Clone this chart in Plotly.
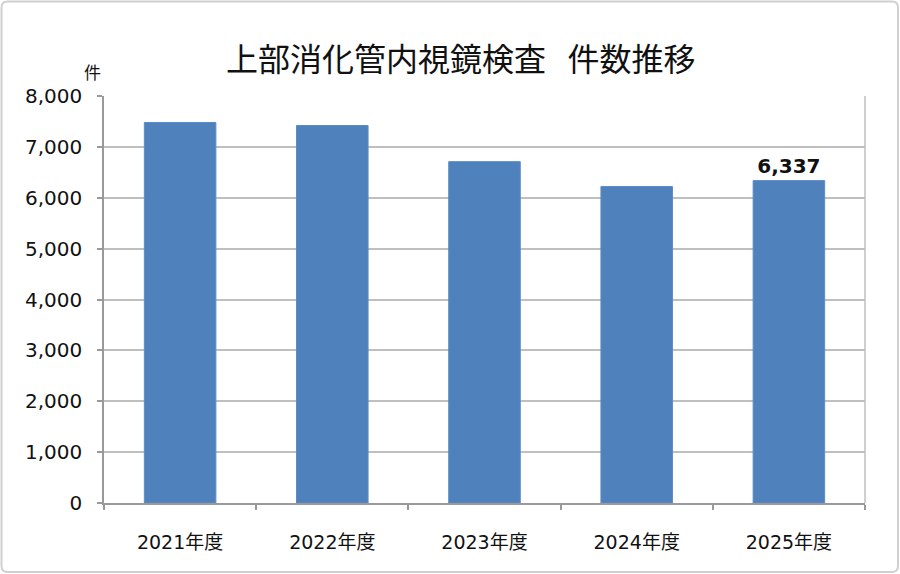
import plotly.graph_objects as go

categories = ["2021年度", "2022年度", "2023年度", "2024年度", "2025年度"]
values = [7480, 7420, 6710, 6220, 6337]
labels = ["", "", "", "", "6,337"]
y_ticks = [0, 1000, 2000, 3000, 4000, 5000, 6000, 7000, 8000]
y_tick_text = ["0", "1,000", "2,000", "3,000", "4,000", "5,000", "6,000", "7,000", "8,000"]

W, H = 900, 574
L, R, T, B = 104, 35, 96, 71
pw, ph = W - L - R, H - T - B

def px(x):
    return (x - L) / pw

def py(y):
    return (H - B - y) / ph

fig = go.Figure()
fig.add_trace(go.Bar(
    x=categories, y=values,
    marker=dict(color="#4F81BD", line=dict(color="#5b8cc8", width=1)),
    text=labels, textposition="outside", cliponaxis=False,
    textfont=dict(family="DejaVu Sans", size=20, color="#111111", weight="bold"),
    hoverinfo="skip",
))

# rounded outer frame
x0, x1, y0, y1 = 1.5, 898, 1.5, 572
r = 6
rx, ry = r / pw, r / ph
X0, X1, Y0, Y1 = px(x0), px(x1), py(y0), py(y1)
path = (f"M {X0+rx},{Y0} L {X1-rx},{Y0} Q {X1},{Y0} {X1},{Y0-ry} "
        f"L {X1},{Y1+ry} Q {X1},{Y1} {X1-rx},{Y1} L {X0+rx},{Y1} "
        f"Q {X0},{Y1} {X0},{Y1+ry} L {X0},{Y0-ry} Q {X0},{Y0} {X0+rx},{Y0} Z")

fig.update_layout(
    width=W, height=H,
    margin=dict(l=L, r=R, t=T, b=B),
    paper_bgcolor="white", plot_bgcolor="white",
    bargap=0.53,
    showlegend=False,
    font=dict(family="DejaVu Sans, Noto Sans CJK JP", color="#111111"),
    shapes=[
        dict(type="path", path=path, xref="paper", yref="paper",
             line=dict(color="#d0d0d0", width=2), layer="above"),
        dict(type="line", xref="paper", yref="paper", x0=1, x1=1, y0=0, y1=1,
             line=dict(color="#bfbfbf", width=1.5), layer="below"),
    ],
    annotations=[
        dict(text="上部消化管内視鏡検査\u00a0\u00a0\u00a0件数推移", xref="paper", yref="paper",
             x=px(461), y=py(57), xanchor="center", yanchor="middle",
             showarrow=False,
             font=dict(family="Noto Sans CJK JP", size=32, color="#111111")),
        dict(text="件", xref="paper", yref="paper",
             x=px(92), y=py(71), xanchor="center", yanchor="middle",
             showarrow=False,
             font=dict(family="Noto Sans CJK JP", size=17, color="#111111")),
    ],
)

fig.update_xaxes(
    type="category",
    showgrid=False,
    showline=True, linecolor="#999999", linewidth=1.5,
    ticks="outside", tickson="boundaries", ticklen=5, tickcolor="#999999", tickwidth=1.5,
    tickfont=dict(family="DejaVu Sans, Noto Sans CJK JP", size=19, color="#111111"),
    ticklabelstandoff=21,
)
fig.update_yaxes(
    range=[0, 8000],
    tickvals=y_ticks, ticktext=y_tick_text,
    showgrid=True, gridcolor="#bfbfbf", gridwidth=1.5,
    showline=True, linecolor="#999999", linewidth=1.5,
    ticks="outside", ticklen=5, tickcolor="#999999", tickwidth=1.5,
    tickfont=dict(family="DejaVu Sans", size=20, color="#111111"),
    ticklabelstandoff=11,
    zeroline=False,
)

fig.write_html("out.html")
